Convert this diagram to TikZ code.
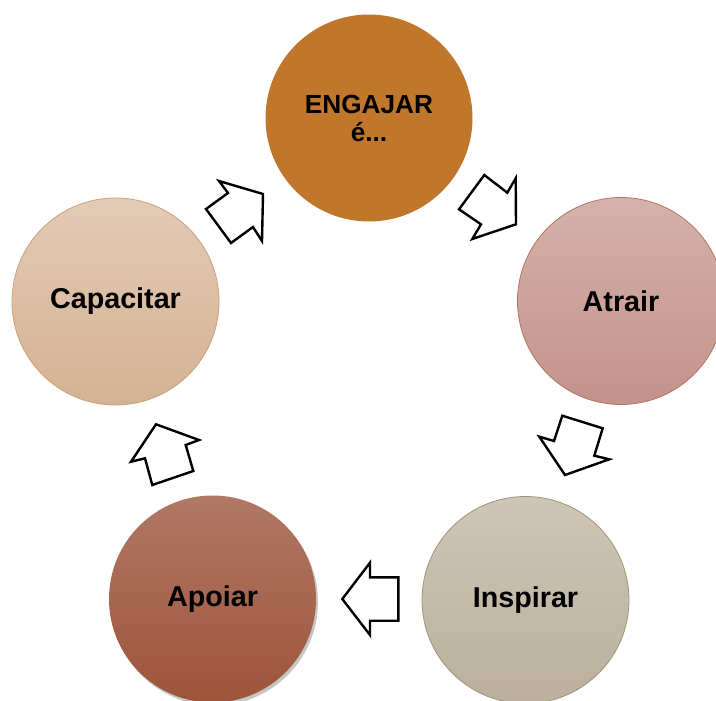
\documentclass[tikz,border=0pt]{standalone}
\usepackage{fontspec}
\setmainfont{Liberation Sans}
\usetikzlibrary{shadows}
\begin{document}
\begin{tikzpicture}[x=1pt,y=-1pt,
  ball/.style={circle, minimum size=207pt, inner sep=0pt, align=center,
    font=\bfseries\fontsize{28.7}{29}\selectfont, text=black, line width=0.8pt},
  blockarrow/.style={draw=black, fill=white, line width=2.4pt, line join=miter}]
\useasboundingbox (0,0) rectangle (716,701);
\clip (0,0) rectangle (716,701);
\definecolor{engc}{HTML}{C0772C}
\definecolor{atrT}{HTML}{D5B2AA}\definecolor{atrB}{HTML}{C3928A}\definecolor{atrD}{HTML}{B87468}
\definecolor{insT}{HTML}{CDC6B6}\definecolor{insB}{HTML}{BAB09B}\definecolor{insD}{HTML}{A39476}
\definecolor{apoT}{HTML}{B07866}\definecolor{apoB}{HTML}{9E5439}
\definecolor{capT}{HTML}{E3CBB6}\definecolor{capB}{HTML}{D4B193}\definecolor{capD}{HTML}{C9A27E}

\node[ball, fill=engc, font=\bfseries\fontsize{26.2}{28}\selectfont] (eng) at (369,118) {ENGAJAR\\é...};
\node[ball, draw=atrD, top color=atrT, bottom color=atrB] (atr) at (621,301) {Atrair};
\node[ball, draw=insD, top color=insT, bottom color=insB] (ins) at (525.5,600) {Inspirar};
\node[ball, top color=apoT, bottom color=apoB,
  drop shadow={shadow xshift=2pt, shadow yshift=-3pt, opacity=0.45}] (apo) at (212.5,599) {Apoiar};
\node[ball, draw=capD, top color=capT, bottom color=capB] (cap) at (115.5,301.5) {Capacitar};

% block arrows
\draw[blockarrow] (219,181) -- (263,194) -- (262,241) -- (253,227) -- (231,243) -- (206,209) -- (228,193) -- cycle;
\draw[blockarrow] (484.3,175) -- (507.3,192.7) -- (515.7,178.3) -- (516,224.3) -- (472.3,239) -- (481,224.3) -- (459,209.3) -- cycle;
\draw[blockarrow] (562.3,415.7) -- (602.7,428.3) -- (594.3,455.7) -- (609.3,459.3) -- (565,475) -- (539.3,436.7) -- (554,441) -- cycle;
\draw[blockarrow] (370,562.7) -- (370,577.3) -- (398.3,577.3) -- (398.3,620.7) -- (370,620.7) -- (370,635) -- (342.3,599) -- cycle;
\draw[blockarrow] (156,424.3) -- (199,440) -- (185.7,445) -- (193.3,471) -- (152.3,485) -- (145,458.3) -- (131,461.7) -- cycle;
\end{tikzpicture}
\end{document}
